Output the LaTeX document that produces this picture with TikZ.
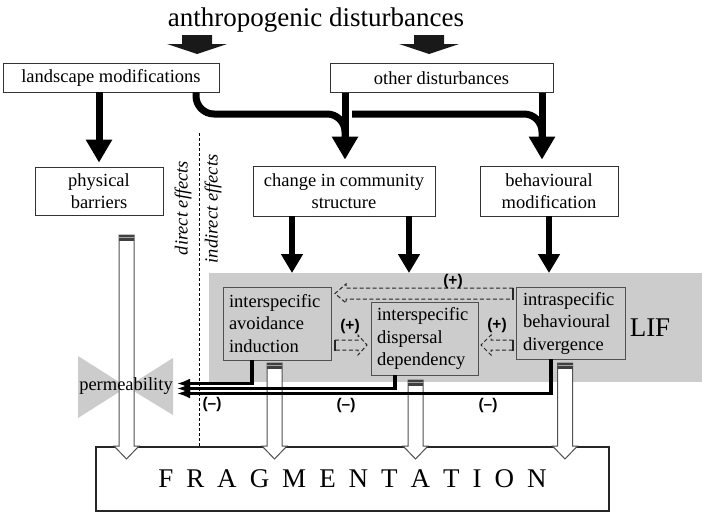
\documentclass[tikz,border=0pt]{standalone}
\usepackage{fontspec}
\setmainfont{Liberation Serif}
\newfontfamily\lblfont{Liberation Sans}
\usetikzlibrary{arrows.meta,calc}
\definecolor{lifgray}{RGB}{204,204,204}
\definecolor{edgegray}{RGB}{80,80,80}
\newcommand\hollowarrow[2]{%
  \filldraw[fill=white, draw=edgegray, line width=1pt]
    (#1-7.5,#2) -- (#1-7.5,446) -- (#1-12.5,446) -- (#1,459) -- (#1+12.5,446) -- (#1+7.5,446) -- (#1+7.5,#2) -- cycle;
  \fill[black!75] (#1-7.5,#2) rectangle (#1+7.5,#2+5.5);
  \draw[black!35, line width=1pt] (#1-7.5,#2+2.7) -- (#1+7.5,#2+2.7);
}
\begin{document}
\begin{tikzpicture}[x=1pt,y=-1pt,
  box/.style={draw=black!80, line width=0.8pt, fill=white, inner sep=0pt, align=center,
    font=\fontsize{18.5}{22}\selectfont},
  gbox/.style={draw=edgegray, line width=0.8pt, fill=lifgray, inner xsep=6pt, inner ysep=0pt,
    align=left, font=\fontsize{18.5}{22.5}\selectfont},
  big/.style={line width=7pt, -{Triangle[length=23pt,width=25pt]}},
  mid/.style={line width=6.5pt, -{Triangle[length=19pt,width=21pt]}},
  bendline/.style={line width=7pt, rounded corners=18pt},
  pline/.style={line width=3.2pt, -{Latex[length=13pt,width=10pt]}},
  dashedarrow/.style={draw=black!85, line width=1pt, dash pattern=on 4pt off 2.5pt},
  tailmark/.style={draw=black!85, line width=2.6pt},
  sign/.style={font=\lblfont\bfseries\fontsize{15.5}{15.5}\selectfont, inner sep=0pt}
]
\useasboundingbox (0,0) rectangle (702,514);
\fill[white] (0,0) rectangle (702,514);

% LIF region
\fill[lifgray] (209,273) rectangle (702,382);

% title and fat arrows
\node[anchor=base, font=\fontsize{27}{30}\selectfont, inner sep=0pt] (title) at (316,26) {anthropogenic disturbances};
\fill[black!90] (182,35) -- (212,35) -- (212,44) -- (227,44) -- (197,54) -- (167,44) -- (182,44) -- cycle;
\fill[black!90] (414,35) -- (444,35) -- (444,44) -- (459,44) -- (429,54) -- (399,44) -- (414,44) -- cycle;

% boxes
\node[box, minimum width=216pt, minimum height=29pt] (land) at (111,77.5) {landscape modifications};
\node[box, minimum width=223pt, minimum height=29pt] (other) at (441.5,78) {other disturbances};
\node[box, minimum width=128pt, minimum height=48pt] (phys) at (99,191) {physical\\barriers};
\node[box, minimum width=182pt, minimum height=50pt] (comm) at (344,191) {change in community\\structure};
\node[box, minimum width=138pt, minimum height=50pt] (behav) at (549,191) {behavioural\\modification};

\node[gbox, text width=96pt, minimum height=73pt] (avoid) at (277,323.5) {interspecific\\avoidance\\induction};
\node[gbox, text width=95pt, minimum height=73pt] (disp) at (424.5,338.5) {interspecific\\dispersal\\dependency};
\node[gbox, text width=96pt, inner xsep=6.5pt, minimum height=72pt] (intra) at (571,323) {intraspecific\\behavioural\\divergence};
\node[font=\fontsize{27}{30}\selectfont, inner sep=0pt] (lif) at (650,328) {LIF};

% top connectors
\draw[big, shorten >=4pt] (land.south -| phys.north) -- (phys.north);
\draw[bendline] (land.south -| 196,0) -- (196,114) -- (345,114) -- (345,140);
\draw[bendline] (352,114) -- (542,114) -- (542,140);
\draw[big, shorten >=6pt] (other.south -| 345,0) -- (comm.north -| 345,0);
\draw[big, shorten >=6pt] (other.south -| 542,0) -- (behav.north -| 542,0);

\draw[mid] (comm.south -| 292,0) -- (292,273);
\draw[mid] (comm.south -| 409,0) -- (409,273);
\draw[mid] (behav.south -| 549,0) -- (549,273);

% direct / indirect
\draw[line width=0.6pt, dash pattern=on 3pt off 2pt] (199,133) -- (199,446);
\node[rotate=90, font=\itshape\fontsize{18.5}{20}\selectfont, inner sep=0pt] (de) at (183,208) {direct effects};
\node[rotate=90, font=\itshape\fontsize{18.5}{20}\selectfont, inner sep=0pt] (ie) at (213,209) {indirect effects};

% dashed hollow arrows
\draw[dashedarrow] (513,288) -- (346,288) -- (346,284) -- (335,293.5) -- (346,303) -- (346,299) -- (513,299);
\draw[tailmark] (513,287.5) -- (513,299.5);
\node[sign] (s1) at (453,281) {(+)};
\draw[dashedarrow] (335,340) -- (358,340) -- (358,335) -- (367,345) -- (358,355) -- (358,350) -- (335,350);
\draw[tailmark] (335,339.5) -- (335,350.5);
\node[sign] (s2) at (350,326) {(+)};
\draw[dashedarrow] (513,340) -- (491,340) -- (491,335) -- (481,345) -- (491,355) -- (491,350) -- (513,350);
\draw[tailmark] (513,339.5) -- (513,350.5);
\node[sign] (s3) at (497,325) {(+)};

% permeability bowtie
\fill[lifgray] (78,356) -- (127,387) -- (78,418) -- cycle;
\fill[lifgray] (173,358) -- (127,387) -- (173,415) -- cycle;

% fragmentation
\node[draw=black!85, line width=2.2pt, minimum width=513pt, minimum height=64pt, inner sep=0pt,
  font=\fontsize{27}{30}\selectfont] (frag) at (352.5,479)
  {F\kern13pt R\kern13pt A\kern13pt G\kern13pt M\kern13pt E\kern13pt N\kern13pt T\kern13pt A\kern13pt T\kern13pt I\kern13pt O\kern13pt N};

% hollow arrows
\hollowarrow{126.5}{235}
\hollowarrow{274.5}{363}
\hollowarrow{415.5}{380}
\hollowarrow{565}{363}

% negative connectors
\coordinate (p1) at (177,383.5);
\coordinate (p2) at (177,388.5);
\coordinate (p3) at (177,393.5);
\draw[pline] ($(intra.south)+(-20,0)$) |- (p3);
\draw[pline] ($(disp.south)+(-29.5,0)$) |- (p2);
\draw[pline] ($(avoid.south)+(-25,0)$) |- (p1);
\node[sign] (m1) at (212,404) {(–)};
\node[sign] (m2) at (346,405) {(–)};
\node[sign] (m3) at (488,405) {(–)};

\node[font=\fontsize{18.5}{20}\selectfont, inner sep=0pt] (perm) at (126,386) {permeability};
\end{tikzpicture}
\end{document}
